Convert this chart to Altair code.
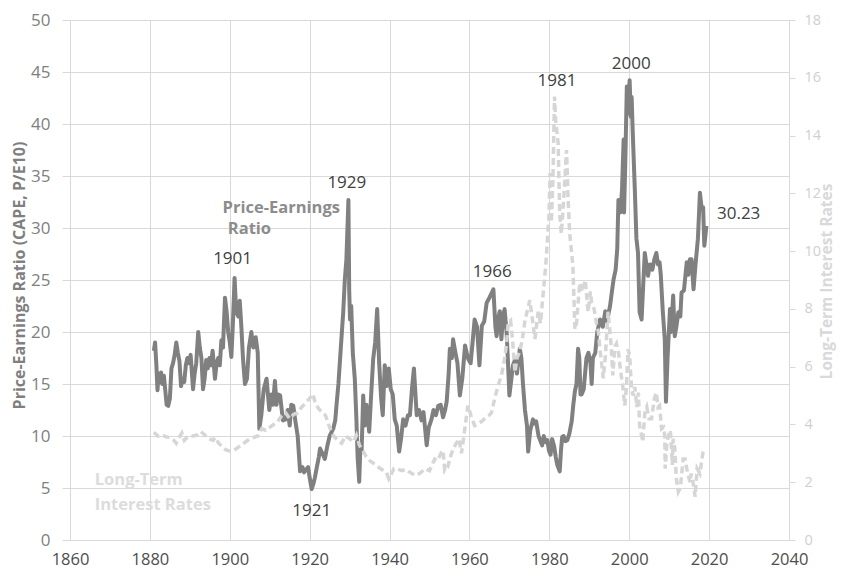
import altair as alt
import pandas as pd

# ---------------- data ----------------
cape_year = [
    1881.0, 1881.3, 1881.6, 1881.9, 1882.2, 1882.5, 1882.8, 1883.1, 1883.5, 1883.9,
    1884.2, 1884.6, 1885.0, 1885.4, 1885.8, 1886.2, 1886.6, 1887.0, 1887.4, 1887.8,
    1888.2, 1888.6, 1889.0, 1889.4, 1889.8, 1890.2, 1890.8, 1891.2, 1891.6, 1892.1,
    1892.5, 1892.9, 1893.3, 1893.7, 1894.1, 1894.5, 1894.9, 1895.3, 1895.7, 1896.3,
    1896.7, 1897.1, 1897.5, 1897.9, 1898.3, 1898.8, 1899.2, 1899.6, 1900.0, 1900.4,
    1900.8, 1901.2, 1901.6, 1902.1, 1902.5, 1902.9, 1903.3, 1903.8, 1904.3, 1904.8,
    1905.4, 1905.9, 1906.5, 1907.0, 1907.4, 1907.9, 1908.5, 1909.2, 1909.9, 1910.4,
    1910.8, 1911.3, 1911.7, 1912.0, 1912.6, 1913.3, 1914.0, 1914.5, 1915.0, 1915.4,
    1915.9, 1916.4, 1917.0, 1917.6, 1918.2, 1918.6, 1919.2, 1919.6, 1920.0, 1920.5,
    1921.0, 1921.3, 1921.8, 1922.3, 1922.6, 1923.2, 1923.8, 1924.4, 1925.0, 1925.9,
    1926.4, 1926.7, 1927.2, 1927.8, 1928.4, 1928.8, 1929.2, 1929.7, 1929.9, 1930.1,
    1930.4, 1930.8, 1931.3, 1931.7, 1932.0, 1932.4, 1932.7, 1933.0, 1933.4, 1933.8,
    1934.2, 1934.6, 1934.9, 1935.4, 1935.9, 1936.4, 1936.9, 1937.4, 1937.9, 1938.3,
    1938.8, 1939.3, 1939.8, 1940.3, 1940.8, 1941.3, 1941.8, 1942.4, 1942.9, 1943.4,
    1944.0, 1944.6, 1945.1, 1945.6, 1946.1, 1946.8, 1947.4, 1948.0, 1948.5, 1949.3,
    1949.8, 1950.5, 1951.0, 1951.6, 1952.2, 1952.8, 1953.4, 1953.9, 1954.3, 1954.8,
    1955.1, 1955.6, 1955.9, 1956.5, 1957.0, 1957.6, 1958.2, 1958.9, 1959.3, 1959.7,
    1960.3, 1960.9, 1961.3, 1961.9, 1962.5, 1963.1, 1963.7, 1964.3, 1965.0, 1966.0,
    1966.5, 1966.8, 1967.3, 1967.6, 1968.0, 1968.4, 1968.8, 1969.3, 1969.6, 1970.0,
    1970.5, 1970.9, 1971.4, 1971.9, 1972.6, 1973.0, 1973.4, 1973.9, 1974.4, 1974.7,
    1975.2, 1975.9, 1976.3, 1976.7, 1977.3, 1977.8, 1978.2, 1978.6, 1979.1, 1979.5,
    1979.9, 1980.3, 1980.7, 1981.2, 1981.6, 1982.0, 1982.6, 1982.9, 1983.2, 1983.6,
    1984.0, 1984.5, 1985.0, 1985.6, 1986.0, 1986.4, 1986.8, 1987.2, 1987.5, 1987.8,
    1988.1, 1988.6, 1989.3, 1989.8, 1990.3, 1990.6, 1990.9, 1991.5, 1992.0, 1992.7,
    1993.4, 1994.0, 1994.4, 1995.2, 1995.7, 1996.1, 1996.6, 1997.0, 1997.3, 1997.8,
    1998.2, 1998.6, 1998.7, 1999.0, 1999.4, 1999.7, 2000.1, 2000.4, 2000.6, 2000.9,
    2001.4, 2001.8, 2002.2, 2002.6, 2003.1, 2003.5, 2003.9, 2004.3, 2004.7, 2005.2,
    2005.8, 2006.3, 2006.8, 2007.2, 2007.6, 2007.9, 2008.4, 2008.9, 2009.2, 2009.6,
    2010.2, 2010.5, 2011.0, 2011.4, 2011.8, 2012.3, 2012.8, 2013.1, 2013.7, 2014.4,
    2014.8, 2015.2, 2015.6, 2016.1, 2016.6, 2017.2, 2017.7, 2018.1, 2018.5, 2018.8,
    2019.0, 2019.3,
]
cape_value = [
    18.2, 19.0, 17.0, 14.4, 16.0, 15.2, 16.1, 15.0, 15.8, 14.2,
    13.0, 12.9, 13.6, 16.5, 17.0, 17.8, 19.0, 18.0, 17.2, 14.8,
    15.5, 15.2, 16.8, 17.5, 17.0, 17.8, 14.5, 16.0, 17.0, 20.0,
    18.5, 17.5, 14.5, 15.5, 17.3, 16.5, 17.5, 16.8, 18.2, 15.5,
    17.0, 17.5, 16.8, 19.2, 18.5, 23.3, 22.0, 20.0, 19.0, 17.6,
    21.0, 25.2, 22.0, 21.5, 23.0, 20.5, 17.5, 15.0, 15.5, 18.5,
    20.0, 18.5, 19.5, 18.0, 10.7, 12.0, 14.5, 15.5, 12.5, 14.0,
    13.0, 15.3, 13.0, 14.0, 13.9, 11.5, 11.6, 12.5, 11.0, 13.0,
    12.9, 11.5, 10.0, 6.6, 7.0, 6.5, 6.8, 7.0, 6.0, 4.9,
    5.5, 6.0, 7.0, 8.0, 8.8, 8.3, 7.8, 9.0, 10.0, 10.7,
    11.5, 12.9, 15.0, 18.5, 21.9, 25.0, 27.0, 32.7, 24.0, 21.2,
    22.5, 18.0, 15.5, 11.6, 8.0, 5.6, 9.0, 8.5, 13.9, 11.0,
    13.0, 11.5, 10.4, 14.0, 17.4, 19.0, 22.2, 17.0, 13.6, 12.0,
    16.8, 14.8, 16.5, 14.5, 14.0, 11.6, 11.0, 8.5, 9.8, 11.6,
    11.0, 12.0, 12.0, 14.5, 16.5, 12.0, 12.5, 11.5, 12.3, 9.1,
    10.8, 11.6, 12.5, 12.0, 12.9, 13.0, 11.8, 12.5, 13.3, 16.0,
    18.4, 17.5, 19.3, 18.0, 17.0, 13.9, 15.5, 18.7, 18.0, 17.4,
    17.0, 19.5, 21.2, 20.5, 16.8, 20.6, 21.0, 22.8, 23.3, 24.1,
    20.5, 19.6, 21.5, 22.0, 19.3, 21.5, 22.2, 20.0, 17.5, 13.9,
    15.5, 16.8, 17.3, 16.0, 18.4, 17.5, 15.0, 12.5, 11.0, 8.5,
    10.5, 11.6, 11.2, 11.4, 10.0, 9.5, 9.1, 10.0, 9.4, 9.6,
    8.6, 8.2, 9.7, 9.0, 8.0, 7.2, 6.6, 8.5, 9.9, 10.0,
    9.5, 9.6, 10.2, 11.4, 13.0, 14.3, 15.0, 18.4, 17.5, 14.0,
    14.0, 14.5, 17.5, 18.0, 17.0, 15.0, 17.5, 18.0, 20.0, 21.2,
    20.5, 22.0, 21.0, 22.5, 24.0, 25.1, 26.0, 28.0, 32.7, 31.5,
    33.7, 38.5, 31.5, 36.0, 43.6, 41.0, 44.2, 40.7, 42.6, 39.0,
    33.7, 29.0, 27.6, 21.9, 21.2, 24.5, 27.6, 26.5, 25.4, 26.5,
    26.0, 27.0, 27.6, 26.5, 26.7, 25.5, 22.0, 19.3, 13.3, 17.5,
    22.2, 20.0, 23.5, 19.6, 20.5, 21.9, 21.5, 23.8, 24.0, 26.7,
    25.5, 27.0, 27.0, 24.1, 26.5, 29.0, 33.4, 32.0, 32.0, 28.3,
    29.0, 30.2,
]

rate_year = [
    1881.0, 1882.0, 1883.0, 1884.0, 1885.0, 1886.0, 1886.6, 1887.3, 1888.0, 1888.6,
    1889.3, 1890.0, 1891.0, 1892.0, 1892.8, 1893.6, 1894.4, 1895.0, 1895.8, 1896.4,
    1897.2, 1898.0, 1899.0, 1900.0, 1901.0, 1902.0, 1903.0, 1904.0, 1905.0, 1906.0,
    1907.0, 1908.0, 1909.0, 1910.0, 1911.0, 1912.0, 1913.0, 1914.0, 1915.0, 1916.0,
    1917.0, 1918.0, 1919.0, 1920.0, 1920.8, 1921.5, 1922.5, 1923.3, 1924.0, 1925.0,
    1925.9, 1927.0, 1928.0, 1929.0, 1930.0, 1931.0, 1931.7, 1932.5, 1933.3, 1934.1,
    1935.0, 1936.0, 1937.4, 1938.5, 1939.2, 1939.8, 1940.5, 1941.1, 1942.0, 1943.1,
    1944.0, 1945.0, 1946.4, 1947.5, 1948.9, 1950.0, 1951.3, 1952.0, 1953.0, 1953.4,
    1953.8, 1954.5, 1955.5, 1956.5, 1957.4, 1958.0, 1958.6, 1959.6, 1960.4, 1961.3,
    1962.0, 1963.0, 1963.8, 1964.8, 1965.5, 1966.5, 1967.2, 1968.0, 1968.7, 1969.3,
    1969.7, 1970.3, 1970.8, 1971.4, 1971.9, 1972.5, 1973.2, 1973.9, 1974.6, 1975.1,
    1975.8, 1976.4, 1977.2, 1977.8, 1978.5, 1979.1, 1979.9, 1980.2, 1980.5, 1980.9,
    1981.3, 1981.6, 1982.2, 1982.6, 1983.0, 1983.6, 1984.3, 1984.7, 1985.1, 1985.9,
    1986.4, 1986.8, 1987.6, 1988.3, 1989.0, 1989.7, 1990.3, 1990.6, 1991.2, 1991.8,
    1992.3, 1992.6, 1993.5, 1994.0, 1994.7, 1995.1, 1995.5, 1995.9, 1996.4, 1996.8,
    1997.3, 1997.8, 1998.4, 1998.9, 1999.3, 1999.7, 2000.1, 2000.6, 2001.0, 2001.4,
    2001.9, 2002.3, 2002.6, 2003.4, 2003.9, 2004.4, 2005.0, 2005.6, 2006.3, 2006.8,
    2007.2, 2007.6, 2008.1, 2008.6, 2008.9, 2009.0, 2009.4, 2009.8, 2010.3, 2010.8,
    2011.0, 2011.4, 2011.8, 2012.3, 2012.8, 2013.5, 2014.0, 2014.4, 2015.2, 2015.5,
    2016.1, 2016.5, 2017.0, 2017.7, 2018.2, 2018.5, 2018.8,
]
rate_value = [
    3.73, 3.60, 3.65, 3.57, 3.55, 3.45, 3.35, 3.55, 3.70, 3.45,
    3.55, 3.60, 3.60, 3.65, 3.75, 3.65, 3.55, 3.50, 3.45, 3.55,
    3.35, 3.25, 3.12, 3.08, 3.10, 3.20, 3.30, 3.40, 3.50, 3.55,
    3.60, 3.85, 3.80, 3.90, 4.00, 4.10, 4.30, 4.40, 4.20, 4.35,
    4.40, 4.60, 4.75, 4.90, 5.06, 4.70, 4.50, 4.43, 4.30, 3.90,
    3.62, 3.45, 3.35, 3.60, 3.50, 3.40, 3.62, 3.27, 3.10, 2.90,
    2.75, 2.65, 2.50, 2.40, 2.35, 2.12, 2.30, 2.47, 2.45, 2.40,
    2.45, 2.35, 2.24, 2.30, 2.47, 2.40, 2.80, 2.75, 3.04, 3.10,
    2.40, 2.50, 3.00, 3.30, 3.50, 3.00, 3.60, 4.65, 4.30, 3.96,
    4.00, 4.10, 4.20, 4.30, 4.40, 5.00, 5.35, 5.70, 6.20, 6.80,
    7.53, 7.60, 6.90, 5.80, 6.30, 6.50, 6.90, 7.60, 8.00, 8.30,
    7.60, 6.96, 7.90, 7.50, 8.60, 9.50, 11.20, 12.70, 11.00, 12.50,
    15.35, 14.50, 13.75, 11.30, 10.60, 11.80, 13.50, 11.80, 10.60, 9.50,
    7.30, 7.50, 8.90, 8.60, 9.00, 7.90, 8.60, 8.20, 8.00, 7.50,
    7.20, 6.70, 5.60, 6.30, 7.90, 7.30, 6.70, 5.70, 6.70, 6.80,
    6.50, 5.90, 5.30, 4.65, 5.30, 6.60, 6.40, 5.20, 5.00, 5.30,
    4.60, 5.10, 3.96, 3.40, 4.40, 4.60, 4.20, 4.20, 4.90, 5.10,
    4.60, 4.65, 3.85, 3.90, 3.60, 2.47, 3.30, 3.60, 3.80, 2.60,
    3.50, 3.20, 2.12, 1.67, 1.80, 2.80, 2.80, 2.47, 2.00, 2.30,
    1.90, 1.50, 2.47, 2.30, 2.80, 3.05, 3.16,
]

# annotations (text, year, value on the P/E scale)
ann_text = ["1901", "1929", "1921", "1966", "1981", "2000", "30.23"]
ann_year = [1900.7, 1929.3, 1920.5, 1965.7, 1981.9, 2000.5, 2027.4]
ann_value = [27.0, 34.3, 2.8, 25.8, 44.1, 45.75, 31.3]

pe_label_text = ["Price-Earnings", "Ratio"]
pe_label_year = [1898.2, 1899.5]
pe_label_value = [31.97, 29.87]

lt_label_text = ["Long-Term", "Interest Rates"]
lt_label_year = [1866.2, 1866.2]
lt_label_value = [5.73, 3.4]

# ---------------- chart ----------------
FONT = "Open Sans"
GRID = "#d9d9d9"

cape_df = pd.DataFrame({"year": cape_year, "value": cape_value})
rate_df = pd.DataFrame({"year": rate_year, "rate": rate_value})
ann_df = pd.DataFrame({"year": ann_year, "value": ann_value, "text": ann_text})
pe_df = pd.DataFrame({"year": pe_label_year, "value": pe_label_value, "text": pe_label_text})
lt_df = pd.DataFrame({"year": lt_label_year, "value": lt_label_value, "text": lt_label_text})

x_scale = alt.Scale(domain=[1860, 2040], nice=False, zero=False)
y_left_scale = alt.Scale(domain=[0, 50], nice=False, zero=True)
y_right_scale = alt.Scale(domain=[0, 18], nice=False, zero=True)

x_axis = alt.Axis(
    values=list(range(1860, 2041, 20)), format="d", grid=True, gridColor=GRID,
    gridWidth=1, ticks=False, tickSize=0, domain=False, title=None,
    labelFont=FONT, labelFontSize=16.5, labelColor="#4d4d4d",
    labelPadding=19, labelBaseline="middle", labelFlush=False,
)

y_left_axis = alt.Axis(
    values=list(range(0, 51, 5)), grid=True, gridColor=GRID, gridWidth=1,
    ticks=True, tickColor=GRID, tickSize=8, domain=False,
    labelFont=FONT, labelFontSize=17, labelColor="#808080", labelPadding=12,
    title="Price-Earnings Ratio (CAPE, P/E10)", titleFont=FONT, titleFontSize=16,
    titleFontWeight="bold", titleColor="#7f7f7f", titleAngle=270,
    titleX=-51, titleY=255, titleBaseline="middle", titleAlign="center",
)

y_right_axis = alt.Axis(
    orient="right", values=list(range(0, 19, 2)), grid=False,
    ticks=True, tickColor=GRID, tickSize=6, domain=False,
    labelFont=FONT, labelFontSize=14.5, labelColor="#d0d0d0", labelPadding=9,
    title="Long-Term Interest Rates", titleFont=FONT, titleFontSize=15.5,
    titleFontWeight="bold", titleColor="#d9d9d9", titleAngle=270,
    titleX=37, titleY=261, titleBaseline="middle", titleAlign="center",
)

X = alt.X("year:Q", scale=x_scale, axis=x_axis, title=None)
Y_LEFT = alt.Y("value:Q", scale=y_left_scale, axis=y_left_axis,
               title="Price-Earnings Ratio (CAPE, P/E10)")

cape_line = alt.Chart(cape_df).mark_line(
    color="#808080", strokeWidth=4, strokeJoin="round"
).encode(x=X, y=Y_LEFT)

ann = alt.Chart(ann_df).mark_text(
    font=FONT, fontSize=17, color="#404040", align="center", baseline="middle"
).encode(x=X, y=Y_LEFT, text="text:N")

pe_lab = alt.Chart(pe_df).mark_text(
    font=FONT, fontSize=16.5, fontWeight="bold", color="#8c8c8c",
    align="left", baseline="middle"
).encode(x=X, y=Y_LEFT, text="text:N")

lt_lab = alt.Chart(lt_df).mark_text(
    font=FONT, fontSize=16.5, fontWeight="bold", color="#dcdcdc",
    align="left", baseline="middle"
).encode(x=X, y=Y_LEFT, text="text:N")

left = alt.layer(cape_line, ann, pe_lab, lt_lab)

rate_line = alt.Chart(rate_df).mark_line(
    color="#d6d6d6", strokeWidth=3.5, strokeDash=[7, 4]
).encode(
    x=X,
    y=alt.Y("rate:Q", scale=y_right_scale, axis=y_right_axis,
            title="Long-Term Interest Rates"),
)

chart = alt.layer(left, rate_line).resolve_scale(y="independent").properties(
    width=719, height=520,
    autosize=alt.AutoSizeParams(type="none"),
    padding={"left": 62, "top": 12, "right": 47, "bottom": 28},
    background="white",
).configure_view(stroke=None)

chart.save("out.html", embed_options={"renderer": "svg", "actions": False})
